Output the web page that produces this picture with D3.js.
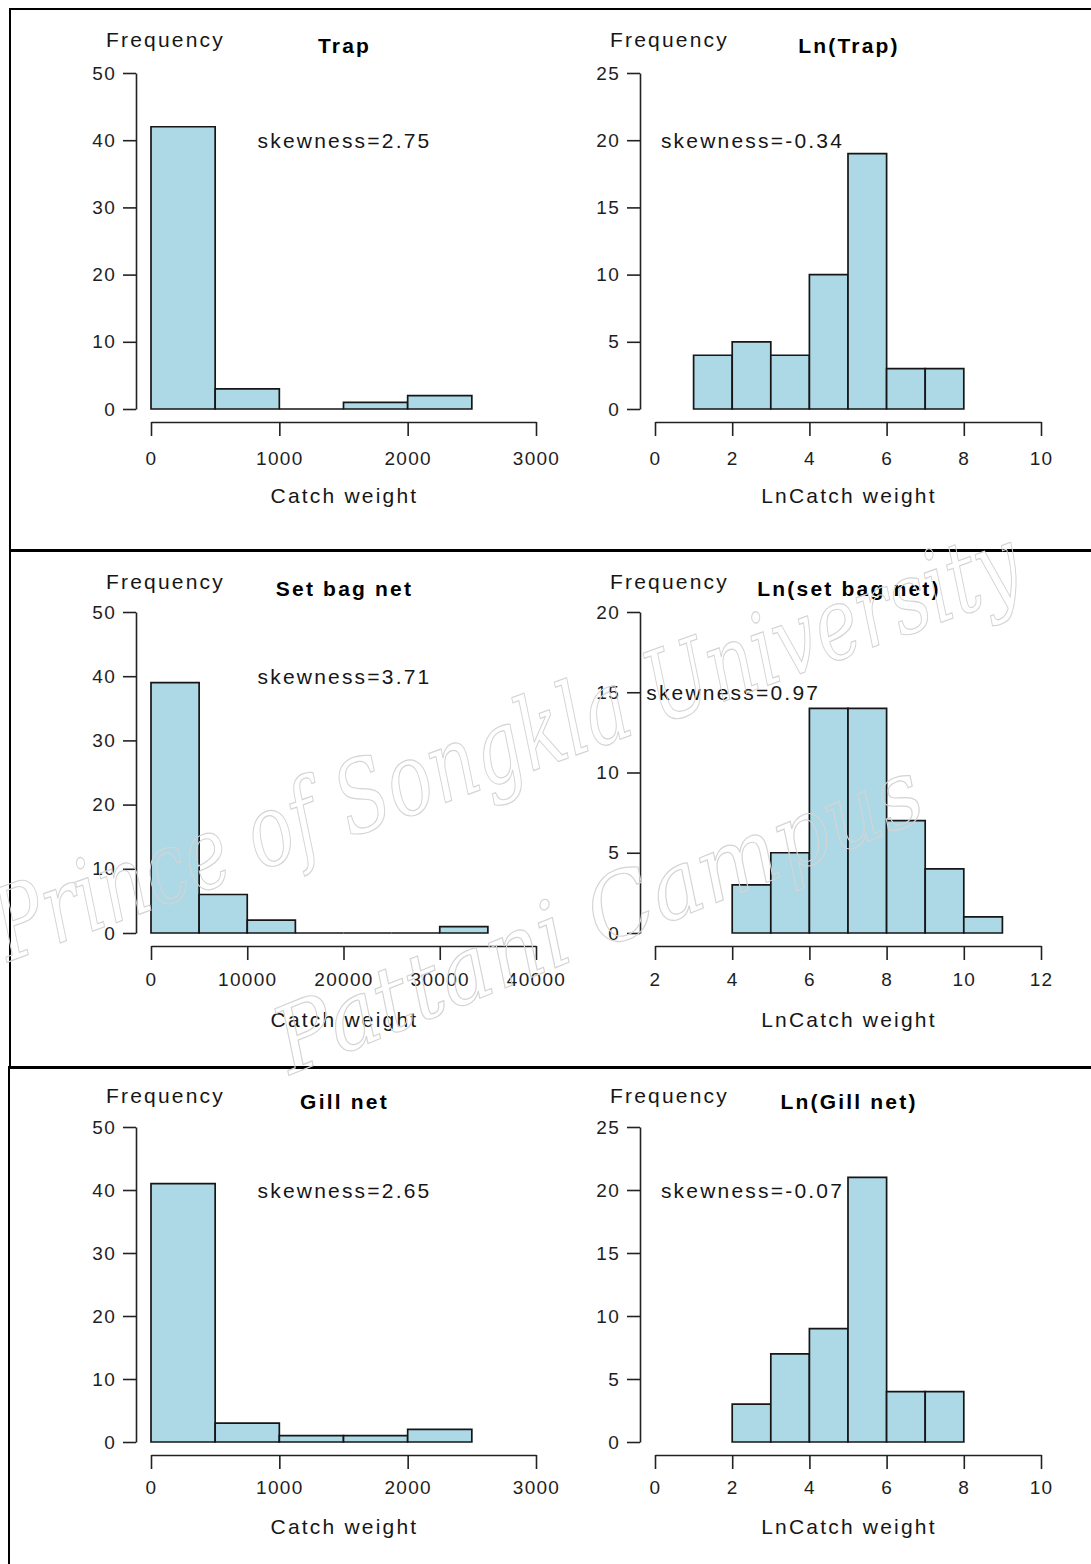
<!DOCTYPE html>
<html><head><meta charset="utf-8">
<script src="https://cdn.jsdelivr.net/npm/d3@7"></script>
<style>body{margin:0;background:#fff}</style>
</head><body>
<svg id="chart" width="1091" height="1564"></svg>
<script>
// ---------- data ----------
const titles = ["Trap", "Ln(Trap)", "Set bag net", "Ln(set bag net)", "Gill net", "Ln(Gill net)"];
const xTitles = ["Catch weight", "LnCatch weight", "Catch weight", "LnCatch weight", "Catch weight", "LnCatch weight"];
const yTitle = "Frequency";

const trapEdges = [0, 500, 1000, 1500, 2000, 2500];
const trapCounts = [42, 3, 0, 1, 2];
const lnTrapEdges = [1, 2, 3, 4, 5, 6, 7, 8];
const lnTrapCounts = [4, 5, 4, 10, 19, 3, 3];
const setBagEdges = [0, 5000, 10000, 15000, 20000, 25000, 30000, 35000];
const setBagCounts = [39, 6, 2, 0, 0, 0, 1];
const lnSetBagEdges = [4, 5, 6, 7, 8, 9, 10, 11];
const lnSetBagCounts = [3, 5, 14, 14, 7, 4, 1];
const gillEdges = [0, 500, 1000, 1500, 2000, 2500];
const gillCounts = [41, 3, 1, 1, 2];
const lnGillEdges = [2, 3, 4, 5, 6, 7, 8];
const lnGillCounts = [3, 7, 9, 21, 4, 4];

const binEdges = [trapEdges, lnTrapEdges, setBagEdges, lnSetBagEdges, gillEdges, lnGillEdges];
const binCounts = [trapCounts, lnTrapCounts, setBagCounts, lnSetBagCounts, gillCounts, lnGillCounts];

const xDomains = [[0, 3000], [0, 10], [0, 40000], [2, 12], [0, 3000], [0, 10]];
const yDomains = [[0, 50], [0, 25], [0, 50], [0, 20], [0, 50], [0, 25]];
const xTicks = [
  [0, 1000, 2000, 3000],
  [0, 2, 4, 6, 8, 10],
  [0, 10000, 20000, 30000, 40000],
  [2, 4, 6, 8, 10, 12],
  [0, 1000, 2000, 3000],
  [0, 2, 4, 6, 8, 10]
];
const yTicks = [
  [0, 10, 20, 30, 40, 50],
  [0, 5, 10, 15, 20, 25],
  [0, 10, 20, 30, 40, 50],
  [0, 5, 10, 15, 20],
  [0, 10, 20, 30, 40, 50],
  [0, 5, 10, 15, 20, 25]
];
const skewLabels = ["skewness=2.75", "skewness=-0.34", "skewness=3.71", "skewness=0.97", "skewness=2.65", "skewness=-0.07"];
// annotation anchor in data units (x centre, y centre)
const skewX = [1500, 2.5, 20000, 4, 1500, 2.5];
const skewY = [40, 20, 40, 15, 40, 20];

// ---------- layout ----------
const colRange = [[151, 536], [655, 1041]];
const colAxisX = [136, 640];
const rowY0 = [409, 933, 1442];
const rowYTop = [73, 612, 1127];
const freqBase = [47, 589, 1103];
const titleBase = [53, 596, 1109];
const tickLabCenter = [50, 47, 46];
const axisTitleCenter = [87, 87, 85];

const svg = d3.select("#chart");
svg.append("rect").attr("width", 1091).attr("height", 1564).attr("fill", "#fff");

const FONT = "'Liberation Sans', Arial, sans-serif";
const ink = "#161616";
const fmt = d3.format("d");

function drawPanel(i) {
  const row = Math.floor(i / 2), col = i % 2;
  const g = svg.append("g");
  const x = d3.scaleLinear().domain(xDomains[i]).range(colRange[col]);
  const y = d3.scaleLinear().domain(yDomains[i]).range([rowY0[row], rowYTop[row]]);
  const edges = binEdges[i];
  const bins = binCounts[i].map((n, k) => ({x0: edges[k], x1: edges[k + 1], n}));

  g.selectAll("path.bar").data(bins).join("path")
    .attr("class", "bar")
    .attr("d", d => `M${x(d.x0)},${y(0)}V${y(d.n)}H${x(d.x1)}V${y(0)}Z`)
    .attr("fill", "#ADD8E6")
    .attr("stroke", ink)
    .attr("stroke-width", 1.7)
    .attr("stroke-linejoin", "miter");

  // y axis
  const ya = g.append("g")
    .attr("transform", `translate(${colAxisX[col]},0)`)
    .call(d3.axisLeft(y).tickValues(yTicks[i]).tickFormat(fmt).tickSize(13).tickSizeOuter(0).tickPadding(7));
  // x axis
  const axOff = 13;
  const pad = tickLabCenter[row] - axOff - 14 - 7;
  const xa = g.append("g")
    .attr("transform", `translate(0,${y(0) + axOff})`)
    .call(d3.axisBottom(x).tickValues(xTicks[i]).tickFormat(fmt).tickSize(14).tickSizeOuter(0).tickPadding(pad));
  [ya, xa].forEach(a => {
    a.select(".domain").attr("stroke", "#222").attr("stroke-width", 1.6);
    a.selectAll(".tick line").attr("stroke", "#222").attr("stroke-width", 1.6);
    a.selectAll(".tick text").attr("fill", "#1e1e1e")
      .style("font-family", FONT).style("font-size", "19px").style("letter-spacing", "1.3px");
  });

  // Frequency
  g.append("text").attr("x", colAxisX[col] - 30).attr("y", freqBase[row])
    .text(yTitle).attr("fill", ink)
    .style("font-family", FONT).style("font-size", "21px").style("letter-spacing", "2.2px");
  // title
  const cx = (colRange[col][0] + colRange[col][1]) / 2;
  g.append("text").attr("x", cx + 1).attr("y", titleBase[row])
    .attr("text-anchor", "middle").text(titles[i]).attr("fill", "#000")
    .style("font-family", FONT).style("font-size", "21px").style("font-weight", "bold")
    .style("letter-spacing", "2.2px");
  // x title
  g.append("text").attr("x", cx + 1).attr("y", y(0) + axisTitleCenter[row] + 7)
    .attr("text-anchor", "middle").text(xTitles[i]).attr("fill", ink)
    .style("font-family", FONT).style("font-size", "21px").style("letter-spacing", "2.2px");
  // skewness
  g.append("text").attr("x", x(skewX[i]) + 1).attr("y", y(skewY[i]) + 7.5)
    .attr("text-anchor", "middle").text(skewLabels[i]).attr("fill", ink)
    .style("font-family", FONT).style("font-size", "21px").style("letter-spacing", "2.2px");
}

for (let i = 0; i < 6; i++) drawPanel(i);

// ---------- frames ----------
const fr = svg.append("g").attr("stroke", "#000");
fr.append("line").attr("x1", 9).attr("x2", 1091).attr("y1", 9).attr("y2", 9).attr("stroke-width", 2);
fr.append("line").attr("x1", 10).attr("x2", 10).attr("y1", 8).attr("y2", 1068).attr("stroke-width", 2);
fr.append("line").attr("x1", 9).attr("x2", 9).attr("y1", 1066).attr("y2", 1564).attr("stroke-width", 2);
fr.append("line").attr("x1", 10).attr("x2", 1091).attr("y1", 550.5).attr("y2", 550.5).attr("stroke-width", 3);
fr.append("line").attr("x1", 9).attr("x2", 1091).attr("y1", 1067.5).attr("y2", 1067.5).attr("stroke-width", 3);

// ---------- watermark ----------
const wm = svg.append("g").attr("fill", "none").attr("stroke", "#d4d4d4").attr("stroke-width", 1.2)
  .style("font-family", "'DejaVu Serif', serif").style("font-style", "italic");
wm.append("text").attr("transform", "translate(8,962) rotate(-20)")
  .attr("textLength", 1085).attr("lengthAdjust", "spacingAndGlyphs")
  .style("font-size", "100px").text("Prince of Songkla University");
wm.append("text").attr("transform", "translate(290,1075) rotate(-22)")
  .attr("textLength", 690).attr("lengthAdjust", "spacingAndGlyphs")
  .style("font-size", "92px").text("Pattani Campus");
</script>
</body></html>
